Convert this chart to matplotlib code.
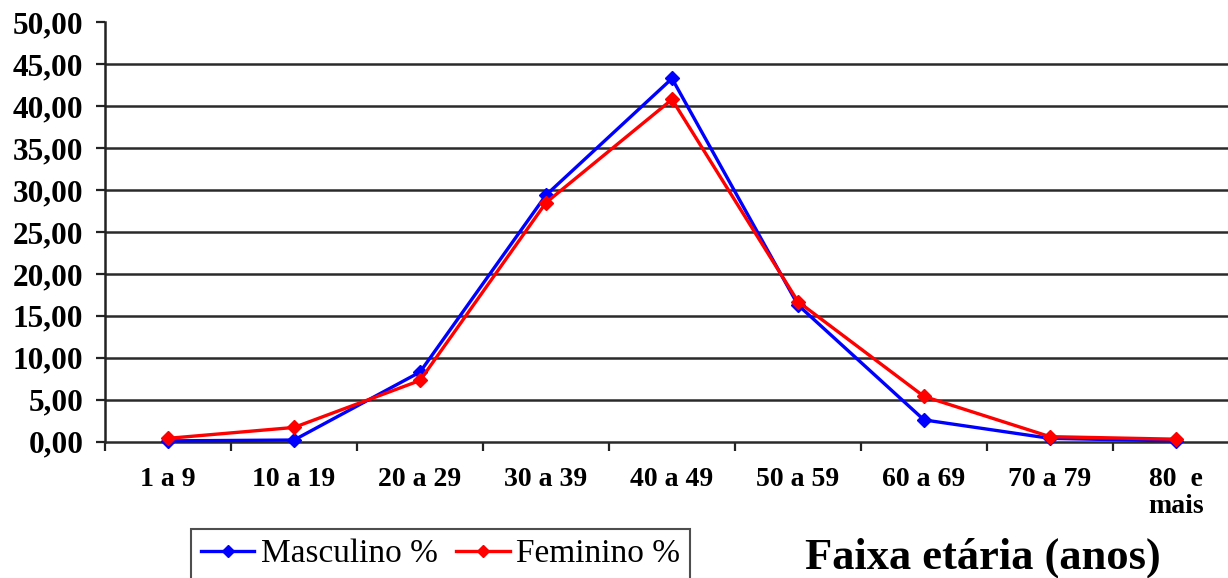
import matplotlib
matplotlib.use("Agg")
import matplotlib.pyplot as plt
import numpy as np

# Age groups and percentage of cases by sex
faixas = ["1 a 9", "10 a 19", "20 a 29", "30 a 39", "40 a 49",
          "50 a 59", "60 a 69", "70 a 79", "80  e\nmais"]
masculino = [0.1, 0.2, 8.3, 29.4, 43.3, 16.3, 2.6, 0.4, 0.1]
feminino = [0.4, 1.7, 7.3, 28.5, 40.8, 16.7, 5.4, 0.6, 0.3]
y_ticks = [0, 5, 10, 15, 20, 25, 30, 35, 40, 45, 50]
y_labels = ["0,00", "5,00", "10,00", "15,00", "20,00", "25,00",
            "30,00", "35,00", "40,00", "45,00", "50,00"]

plt.rcParams["font.family"] = ["Liberation Serif", "DejaVu Serif"]

fig = plt.figure(figsize=(12.28, 5.78), dpi=100)
ax = fig.add_axes([105 / 1228, 136.3 / 578, 1134 / 1228, 419.4 / 578])

x = np.arange(len(faixas))
ax.plot(x, masculino, color="#0000FF", lw=2.4, marker="D", ms=7.5,
        label="Masculino %", zorder=3, clip_on=False)
ax.plot(x, feminino, color="#FF0000", lw=2.4, marker="D", ms=7.5,
        label="Feminino %", zorder=4, clip_on=False)

ax.set_xlim(-0.5, len(faixas) - 0.5)
ax.set_ylim(0, 50)

# y axis
ax.set_yticks(y_ticks)
ax.set_yticklabels(y_labels, fontsize=22.5, fontweight="bold")
ax.tick_params(axis="y", length=6.5, width=1.6, direction="out", pad=9,
               color="#222222")
ax.yaxis.grid(True, color="#2a2a2a", lw=1.8)
ax.get_ygridlines()[0].set_visible(False)
ax.get_ygridlines()[-1].set_visible(False)
ax.set_axisbelow(True)

# x axis: labels at group centres, tick marks between groups
ax.set_xticks(x)
ax.set_xticklabels(faixas, fontsize=20, fontweight="bold",
                   linespacing=1.1, va="top")
ax.tick_params(axis="x", which="major", length=0, pad=18.5)
ax.set_xticks(np.arange(-0.5, len(faixas), 1.0), minor=True)
ax.tick_params(axis="x", which="minor", length=6.5, width=1.6,
               direction="out", color="#222222")

for side in ("top", "right"):
    ax.spines[side].set_visible(False)
ax.spines["left"].set_color("#222222")
ax.spines["left"].set_linewidth(1.8)
ax.spines["bottom"].set_color("#2a2a2a")
ax.spines["bottom"].set_linewidth(1.8)

leg = fig.legend(loc="upper left", bbox_to_anchor=(191 / 1228, 1 - 529 / 578),
                 ncol=2, fontsize=24, frameon=True, fancybox=False,
                 edgecolor="#222222", handlelength=1.6, handletextpad=0.2,
                 columnspacing=0.55, borderpad=0.3, borderaxespad=0)
leg.get_frame().set_linewidth(1.5)
for h in leg.legend_handles:
    h.set_markersize(6)

fig.text(983 / 1228, 1 - 558 / 578, "Faixa etária (anos)", fontsize=32,
         fontweight="bold", ha="center", va="center")

fig.savefig("out.png", dpi=100)
